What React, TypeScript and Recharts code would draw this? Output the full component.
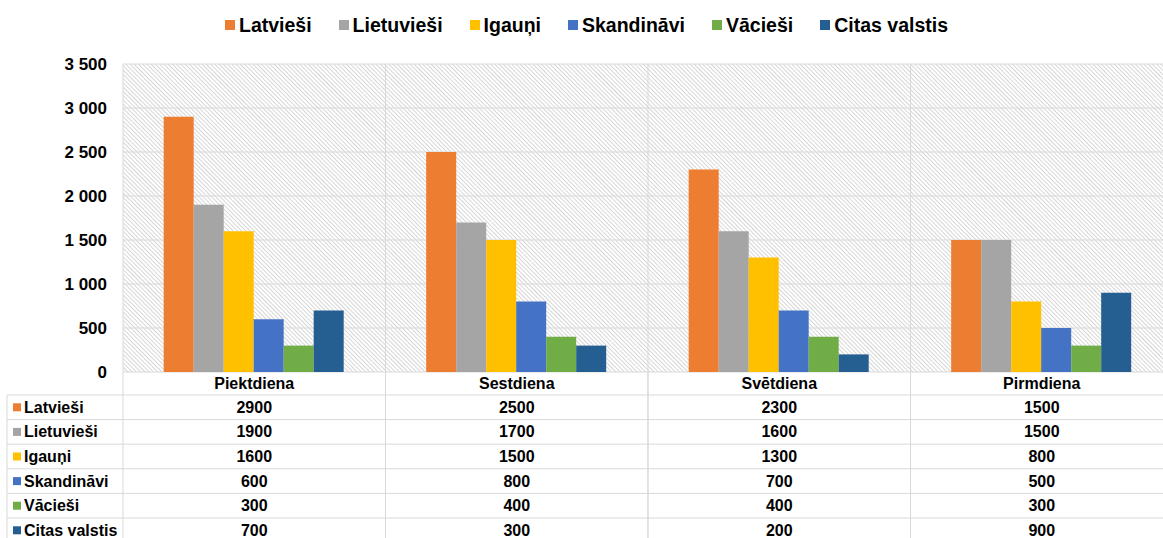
import React from 'react';
import { BarChart, Bar, XAxis, YAxis, CartesianGrid, Legend } from 'recharts';

const days = ['Piektdiena', 'Sestdiena', 'Svētdiena', 'Pirmdiena'];

const seriesNames = ['Latvieši', 'Lietuvieši', 'Igauņi', 'Skandināvi', 'Vācieši', 'Citas valstis'];
const latviesi = [2900, 2500, 2300, 1500];
const lietuviesi = [1900, 1700, 1600, 1500];
const igauni = [1600, 1500, 1300, 800];
const skandinavi = [600, 800, 700, 500];
const vaciesi = [300, 400, 400, 300];
const citas = [700, 300, 200, 900];
const seriesValues = [latviesi, lietuviesi, igauni, skandinavi, vaciesi, citas];

const yTicks = [0, 500, 1000, 1500, 2000, 2500, 3000, 3500];

const COLORS = ['#ED7D31', '#A5A5A5', '#FFC000', '#4472C4', '#70AD47', '#255E91'];
const KEYS = ['s0', 's1', 's2', 's3', 's4', 's5'];

const data = days.map((day, i) => {
  const row: any = { day };
  seriesValues.forEach((vals, s) => {
    row[KEYS[s]] = vals[i];
  });
  return row;
});

const FONT = '"Liberation Sans", Arial, sans-serif';
const GRID = '#d9d9d9';
const HEADER_H = 23;
const ROW_H = 24.6;
const LABEL_COL = 116;

const fmt = (v: number) =>
  v >= 1000 ? `${Math.floor(v / 1000)} ${String(v % 1000).padStart(3, '0')}` : String(v);

const TableTick = (props: any) => {
  const { x, y, payload, index } = props;
  const half = payload.offset || 131;
  const left = x - half;
  const right = x + half;
  const bottom = y + HEADER_H + seriesNames.length * ROW_H;
  const rowYs = seriesNames.map((_, i) => y + HEADER_H + i * ROW_H);
  const i = days.indexOf(payload.value);

  return (
    <g>
      <line x1={left} y1={y} x2={left} y2={bottom + 20} stroke={GRID} />
      <line x1={right} y1={y} x2={right} y2={bottom + 20} stroke={GRID} />
      {rowYs.concat([bottom]).map((ry, k) => (
        <line key={k} x1={left} y1={ry} x2={right} y2={ry} stroke={GRID} />
      ))}
      <text x={x} y={y + HEADER_H / 2} textAnchor="middle" dominantBaseline="central"
        fontFamily={FONT} fontSize={16} fontWeight="bold" fill="#000">
        {payload.value}
      </text>
      {seriesValues.map((vals, s) => (
        <text key={s} x={x} y={rowYs[s] + ROW_H / 2} textAnchor="middle" dominantBaseline="central"
          fontFamily={FONT} fontSize={16} fontWeight="bold" fill="#000">
          {vals[i]}
        </text>
      ))}
      {index === 0 && (
        <g>
          <line x1={left - LABEL_COL} y1={rowYs[0]} x2={left - LABEL_COL} y2={bottom + 20} stroke={GRID} />
          {rowYs.concat([bottom]).map((ry, k) => (
            <line key={k} x1={left - LABEL_COL} y1={ry} x2={left} y2={ry} stroke={GRID} />
          ))}
          {seriesNames.map((name, s) => (
            <g key={name}>
              <rect x={left - LABEL_COL + 6} y={rowYs[s] + ROW_H / 2 - 4} width={8} height={8} fill={COLORS[s]} />
              <text x={left - LABEL_COL + 17} y={rowYs[s] + ROW_H / 2} dominantBaseline="central"
                fontFamily={FONT} fontSize={16} fontWeight="bold" fill="#000">
                {name}
              </text>
            </g>
          ))}
        </g>
      )}
    </g>
  );
};

const LegendContent = () => (
  <div style={{ height: 56, display: 'flex', justifyContent: 'center', alignItems: 'flex-start' }}>
    <div style={{ height: 34, display: 'flex', alignItems: 'center', gap: 27 }}>
      {seriesNames.map((name, s) => (
        <div key={name} style={{ display: 'flex', alignItems: 'center' }}>
          <span style={{ width: 10, height: 10, background: COLORS[s], marginRight: 4, display: 'inline-block' }} />
          <span style={{ fontFamily: FONT, fontSize: 19.5, fontWeight: 'bold', color: '#000' }}>{name}</span>
        </div>
      ))}
    </div>
  </div>
);

// vertical grid lines on the category boundaries, not the centres
const boundaries = ({ offset }: any) =>
  days.map((_, i) => offset.left + (i * offset.width) / days.length).concat(offset.left + offset.width);

const App: React.FC = () => {
  return (
    <div style={{ position: 'fixed', top: 0, left: 0, width: 1163, height: 538, overflow: 'hidden', background: '#fff' }}>
      <svg width={0} height={0} style={{ position: 'absolute' }}>
        <defs>
          <pattern id="hatch" width={3} height={3} patternUnits="userSpaceOnUse" patternTransform="rotate(-45)">
            <rect width={3} height={3} fill="#fff" />
            <line x1={1.5} y1={0} x2={1.5} y2={3} stroke="#d6d6d6" strokeWidth={1} />
          </pattern>
        </defs>
      </svg>
      <BarChart width={1175} height={547} data={data} margin={{ top: 8, right: 2, left: 0, bottom: 0 }}
        barCategoryGap="15.5%" barGap={0}>
        <Legend verticalAlign="top" content={<LegendContent />} />
        <CartesianGrid stroke={GRID} fill="url(#hatch)" fillOpacity={1}
          verticalCoordinatesGenerator={boundaries} />
        <XAxis dataKey="day" height={175} axisLine={false} tickLine={false} tickSize={0} tickMargin={0}
          interval={0} tick={<TableTick />} />
        <YAxis width={123} domain={[0, 3500]} ticks={yTicks} axisLine={false} tickLine={false}
          tickMargin={10} tickFormatter={fmt}
          tick={{ fontFamily: FONT, fontSize: 17, fontWeight: 'bold', fill: '#000' }} />
        {KEYS.map((k, s) => (
          <Bar key={k} dataKey={k} name={seriesNames[s]} fill={COLORS[s]} isAnimationActive={false} />
        ))}
      </BarChart>
    </div>
  );
};

export default App;
